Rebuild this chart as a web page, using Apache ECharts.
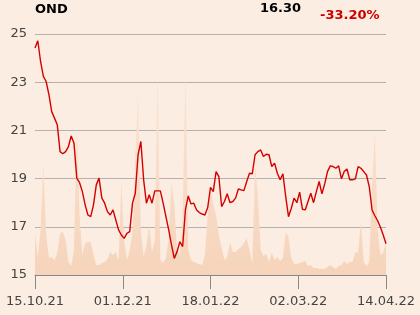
<!DOCTYPE html>
<html>
<head>
<meta charset="utf-8">
<script src="https://cdn.jsdelivr.net/npm/echarts@6/dist/echarts.min.js"></script>
<style>
html,body{margin:0;padding:0;background:#fbede1;}
#c{width:420px;height:315px;}
</style>
</head>
<body>
<div id="c"></div>
<script>
const tickLabels = ['15.10.21','01.12.21','18.01.22','02.03.22','14.04.22'];
const yTicks = [15,17,19,21,23,25];
const prices = [24.42,24.72,23.86,23.24,23.03,22.48,21.78,21.51,21.23,20.12,
20.03,20.12,20.33,20.77,20.47,19.02,18.83,18.46,17.91,17.49,
17.42,17.91,18.74,19.02,18.19,17.98,17.63,17.49,17.70,17.28,
16.87,16.66,16.52,16.73,16.80,17.98,18.39,19.99,20.54,18.95,
17.98,18.33,17.98,18.49,18.49,18.49,17.98,17.42,16.87,16.25,
15.69,15.97,16.38,16.18,17.70,18.28,17.95,17.98,17.70,17.59,
17.53,17.49,17.80,18.64,18.46,19.29,19.08,17.84,18.05,18.37,
18.00,18.05,18.19,18.57,18.53,18.50,18.88,19.22,19.20,19.99,
20.12,20.19,19.92,20.01,19.99,19.50,19.64,19.22,18.95,19.20,
18.25,17.42,17.77,18.19,18.00,18.44,17.73,17.70,18.05,18.39,
18.00,18.46,18.88,18.37,18.78,19.29,19.53,19.50,19.43,19.53,
18.99,19.29,19.40,18.95,18.95,18.99,19.50,19.43,19.29,19.15,
18.66,17.70,17.46,17.25,16.98,16.66,16.30];
const volumes = [43,17,45,111,40,17,18,15,22,42,
43,35,13,9,25,150,60,20,32,33,
33,20,10,10,12,13,16,23,20,23,
15,93,35,15,25,43,115,183,45,18,
30,50,23,35,208,15,12,17,37,93,
70,25,20,55,207,25,15,13,12,11,
10,20,60,88,70,60,40,27,15,18,
33,23,23,26,28,32,37,25,11,110,
80,25,19,21,13,22,15,18,14,17,
43,38,17,11,11,12,13,14,9,10,
7,7,6,6,6,8,10,8,6,9,
10,14,11,13,13,23,22,53,13,9,
13,90,142,45,20,22,32];
const titleName = 'OND';
const lastPrice = '16.30';
const change = '-33.20%';

const n = prices.length;
const step = (n - 1) / (tickLabels.length - 1);
const chart = echarts.init(document.getElementById('c'), null, {renderer:'canvas'});
chart.setOption({
  backgroundColor: '#fbede1',
  animation: false,
  textStyle: {fontFamily: 'DejaVu Sans'},
  grid: {left: 35, right: 34, top: 34, bottom: 40},
  graphic: [
    {type:'text', left: 35, top: 3, style:{text:titleName, font:'bold 13px "DejaVu Sans"', fill:'#000'}},
    {type:'text', left: 260, top: 2, style:{text:lastPrice, font:'bold 13px "DejaVu Sans"', fill:'#000'}},
    {type:'text', left: 320, top: 9, style:{text:change, font:'bold 13px "DejaVu Sans"', fill:'#cc0000'}}
  ],
  xAxis: {
    type: 'value', min: 0, max: n - 1, interval: step,
    axisLine: {show: true, lineStyle: {color: '#888', width: 1}},
    axisTick: {show: true, length: 14, lineStyle: {color: '#888'}},
    splitLine: {show: false},
    axisLabel: {
      color: '#444', fontSize: 13, margin: 20,
      formatter: v => tickLabels[Math.round(v / step)] || ''
    }
  },
  yAxis: [
    {
      type: 'value', min: yTicks[0], max: yTicks[yTicks.length-1], interval: 2,
      axisLine: {show: false}, axisTick: {show: false},
      splitLine: {show: true, lineStyle: {color: '#b3b0ad', width: 1}},
      axisLabel: {color: '#444', fontSize: 13, margin: 8}
    },
    {
      type: 'value', min: 0, max: 241, show: false, splitLine: {show: false}
    }
  ],
  series: [
    {
      type: 'line', yAxisIndex: 1,
      data: volumes.map((v, i) => [i, v]),
      symbol: 'none', lineStyle: {width: 0},
      areaStyle: {
        color: new echarts.graphic.LinearGradient(0, 0, 0, 1, [
          {offset: 0, color: '#fae5d5'},
          {offset: 1, color: '#f6d4bb'}
        ]),
        opacity: 1
      },
      z: 1
    },
    {
      type: 'line', yAxisIndex: 0,
      data: prices.map((v, i) => [i, v]),
      symbol: 'none',
      lineStyle: {color: '#d40000', width: 1.4},
      z: 3
    }
  ]
});
</script>
</body>
</html>
